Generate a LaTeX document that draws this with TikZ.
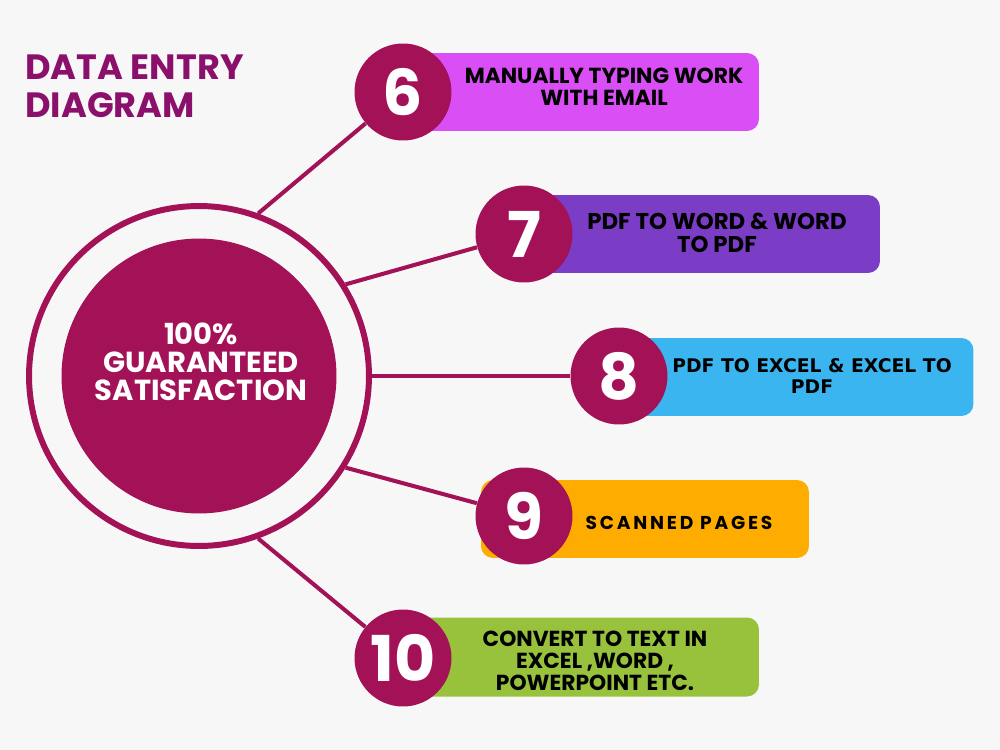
\documentclass[tikz,border=0pt]{standalone}
\usepackage{fontspec}
\setmainfont{Poppins}
\newfontfamily\dejavu{DejaVu Sans}
\usepackage{xcolor}
\definecolor{bggray}{RGB}{247,247,247}
\definecolor{mymagenta}{RGB}{163,17,87}
\definecolor{mytitle}{RGB}{139,16,107}
\definecolor{myviolet}{RGB}{217,78,245}
\definecolor{mypurple}{RGB}{123,60,198}
\definecolor{myblue}{RGB}{59,181,239}
\definecolor{myorange}{RGB}{255,172,0}
\definecolor{mygreen}{RGB}{152,194,60}

\begin{document}
\begin{tikzpicture}[
		x=0.02cm, y=-0.02cm, % one unit = one pixel of the layout
		numcircle/.style={circle, fill=mymagenta, minimum size=1.94cm, inner sep=0pt, text=white, font=\bfseries\fontsize{36}{36}\selectfont},
		box/.style={rectangle, rounded corners=0.24cm, minimum height=1.56cm, inner sep=0pt, outer sep=0pt},
		boxtext/.style={align=center, text=black, font=\bfseries\fontsize{12.4}{12.4}\selectfont},
		link/.style={draw=mymagenta, line width=2.3pt}
		]
		
		% Background and page size
		\fill[bggray] (0,0) rectangle (1000,750);
		\useasboundingbox (0,0) rectangle (1000,750);
		
		% Title
		\node[anchor=north west, align=left, inner sep=0pt, text=mytitle, font=\bfseries\fontsize{20}{22}\selectfont] (title) at (25,54) {DATA ENTRY\\DIAGRAM};
		
		% Centre
		\node[circle, draw=mymagenta, line width=3.4pt, minimum size=6.8cm, inner sep=0pt] (ring) at (199,376) {};
		\node[circle, fill=mymagenta, minimum size=5.5cm, inner sep=0pt] (core) at (199,376) {};
		\node[align=center, text=white, font=\bfseries\fontsize{16.5}{16}\selectfont] (coretext) at (201,362) {100\%\\GUARANTEED\\SATISFACTION};
		
		% Boxes
		\node[box, fill=myviolet, minimum width=7.08cm] (box6) at (582,92) {};
		\node[box, fill=mypurple, minimum width=7.12cm] (box7) at (702,234) {};
		\node[box, fill=myblue, minimum width=7.1cm] (box8) at (796,377) {};
		\node[box, fill=myorange, minimum width=6.56cm] (box9) at (645,519) {};
		\node[box, fill=mygreen, minimum width=7.12cm, minimum height=1.58cm] (box10) at (581,657) {};
		
		\node[boxtext] (text6) at (604,87) {MANUALLY TYPING WORK\\WITH EMAIL};
		\node[boxtext, font=\bfseries\fontsize{13}{13}\selectfont] (text7) at (717,233) {PDF TO WORD \& WORD\\TO PDF};
		\node[boxtext, font=\dejavu\bfseries\fontsize{10.7}{12.5}\selectfont] (text8) at (812,376) {PDF TO EXCEL \& EXCEL TO\\PDF};
		\node[boxtext, font=\bfseries\fontsize{10.6}{12}\selectfont\addfontfeatures{LetterSpace=15}] (text9) at (679,523) {SCANNED PAGES};
		\node[boxtext] (text10) at (595,661) {CONVERT TO TEXT IN\\EXCEL ,WORD ,\\POWERPOINT ETC.};
		
		% Numbers
		\node[numcircle] (num6) at (403,92) {6};
		\node[numcircle] (num7) at (524,234) {7};
		\node[numcircle] (num8) at (619,376) {8};
		\node[numcircle] (num9) at (524,516) {9};
		\node[numcircle] (num10) at (403,658) {10};
		
		% Links
		\draw[link] (ring.70) -- (num6);
		\draw[link] (ring.32) -- (num7);
		\draw[link] (ring.east) -- (num8);
		\draw[link] (ring.-32) -- (num9);
		\draw[link] (ring.-70) -- (num10);
	\end{tikzpicture}
\end{document}
